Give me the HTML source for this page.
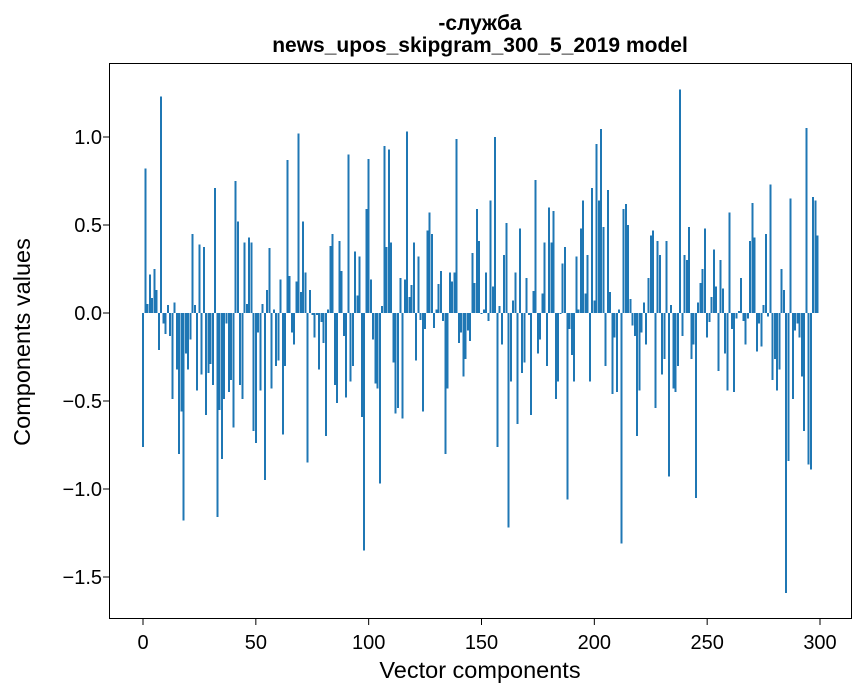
<!DOCTYPE html>
<html><head><meta charset="utf-8"><style>
body{margin:0;background:#fff;}
svg{display:block;font-family:"Liberation Sans","DejaVu Sans",sans-serif;}
</style></head><body>
<svg id="chart" width="867" height="696">
<text x="480" y="30" text-anchor="middle" font-size="21" font-weight="bold">-служба</text>
<text x="480" y="52" text-anchor="middle" font-size="21" font-weight="bold">news_upos_skipgram_300_5_2019 model</text>
<g id="bars"></g>
<g id="axes"></g>
<rect x="109.5" y="63.5" width="742" height="555" fill="none" stroke="#000" stroke-width="1"/>
<text x="480" y="678" text-anchor="middle" font-size="23.5">Vector components</text>
<text transform="translate(30,342) rotate(-90)" text-anchor="middle" font-size="23.5">Components values</text>
</svg>
<script>
const values = [
-0.76,0.82,0.05,0.22,0.085,0.25,0.13,-0.21,1.23,-0.06,
-0.12,0.045,-0.13,-0.49,0.06,-0.32,-0.80,-0.56,-1.18,-0.23,
-0.32,-0.15,0.45,0.045,-0.44,0.39,-0.35,0.375,-0.58,-0.34,
-0.29,-0.41,0.71,-1.16,-0.55,-0.83,-0.49,-0.06,-0.45,-0.38,
-0.65,0.75,0.52,-0.41,-0.49,0.40,0.05,0.43,0.40,-0.67,
-0.74,-0.11,-0.44,0.05,-0.95,0.13,0.37,-0.43,0.02,-0.30,
-0.27,0.19,-0.69,-0.30,0.87,0.21,-0.11,-0.18,0.18,1.02,
0.12,0.52,0.23,-0.85,0.13,-0.01,-0.14,-0.01,-0.32,-0.05,
-0.17,-0.70,0.02,0.38,0.45,-0.41,-0.51,0.41,0.24,-0.13,
-0.48,0.90,-0.39,-0.30,0.35,0.10,0.32,-0.59,-1.35,0.59,
0.875,0.19,-0.15,-0.40,-0.43,-0.97,0.04,0.95,0.375,0.93,
0.40,-0.28,-0.57,-0.54,0.20,-0.60,0.19,1.03,0.09,0.16,
0.40,-0.27,0.32,-0.04,-0.56,-0.09,0.47,0.57,0.45,-0.085,
0.02,0.165,0.24,-0.045,-0.80,-0.43,0.23,0.18,0.23,0.99,
-0.17,-0.11,-0.36,-0.26,-0.10,-0.16,0.34,0.17,0.59,0.41,
-0.005,0.02,0.23,-0.045,0.64,0.15,1.0,-0.76,0.04,-0.18,
0.33,0.51,-1.22,-0.39,0.07,0.23,-0.63,0.48,-0.34,-0.28,
0.20,-0.01,-0.58,0.125,0.755,-0.23,-0.15,0.11,0.40,-0.30,
0.60,0.40,0.58,-0.49,-0.39,-0.005,0.28,0.375,-1.06,-0.09,
-0.24,-0.39,0.32,0.02,0.48,0.64,0.11,0.33,-0.39,0.71,
0.07,0.96,0.64,1.045,0.49,-0.30,0.70,0.12,-0.46,-0.14,
-0.45,0.02,-1.31,0.59,0.62,0.50,0.08,-0.07,-0.13,-0.70,
-0.44,-0.11,0.06,-0.18,0.20,0.44,0.47,-0.54,0.41,0.33,
-0.35,-0.26,0.41,-0.93,0.045,-0.43,-0.45,-0.30,1.27,-0.13,
0.33,0.30,0.49,-0.26,-0.18,-1.05,0.06,0.17,0.25,0.48,
-0.14,-0.05,0.09,0.36,0.15,-0.33,0.30,0.14,-0.23,-0.44,
0.57,-0.09,-0.45,-0.03,0.01,0.20,-0.045,-0.18,-0.03,0.41,
0.625,0.43,-0.22,-0.06,-0.19,0.045,0.45,-0.02,0.73,-0.38,
-0.26,-0.44,-0.32,0.25,0.13,-1.59,-0.84,0.65,-0.49,-0.10,
-0.06,-0.14,-0.36,-0.67,1.05,-0.86,-0.89,0.66,0.64,0.44
];
const xTicks = [0,50,100,150,200,250,300];
const yTicks = [-1.5,-1.0,-0.5,0.0,0.5,1.0];
const yTickLabels = ["\u22121.5","\u22121.0","\u22120.5","0.0","0.5","1.0"];

const NS = "http://www.w3.org/2000/svg";
const xScale = v => 143 + v * (677/300);
const yScale = v => 313 - v * 176;
const barsG = document.getElementById('bars');
const axesG = document.getElementById('axes');
const bw = 2.0;
values.forEach((v, i) => {
  const r = document.createElementNS(NS, 'rect');
  const y0 = yScale(0), y1 = yScale(v);
  r.setAttribute('x', xScale(i) - bw/2);
  r.setAttribute('y', Math.min(y0, y1));
  r.setAttribute('width', bw);
  r.setAttribute('height', Math.abs(y1 - y0));
  r.setAttribute('fill', '#1f77b4');
  r.setAttribute('shape-rendering', 'crispEdges');
  
  
  barsG.appendChild(r);
});
xTicks.forEach(t => {
  const x = xScale(t);
  const l = document.createElementNS(NS, 'line');
  l.setAttribute('x1', x); l.setAttribute('x2', x);
  l.setAttribute('y1', 619); l.setAttribute('y2', 625);
  l.setAttribute('stroke', '#000');
  
  
  axesG.appendChild(l);
  const tx = document.createElementNS(NS, 'text');
  tx.setAttribute('x', x); tx.setAttribute('y', 649);
  tx.setAttribute('text-anchor', 'middle'); tx.setAttribute('font-size', '20');
  tx.textContent = String(t);
  
  
  axesG.appendChild(tx);
});
yTicks.forEach((t, i) => {
  const y = yScale(t);
  const l = document.createElementNS(NS, 'line');
  l.setAttribute('x1', 103); l.setAttribute('x2', 109);
  l.setAttribute('y1', y); l.setAttribute('y2', y);
  l.setAttribute('stroke', '#000');
  
  
  axesG.appendChild(l);
  const tx = document.createElementNS(NS, 'text');
  tx.setAttribute('x', 102); tx.setAttribute('y', y + 7);
  tx.setAttribute('text-anchor', 'end'); tx.setAttribute('font-size', '20');
  tx.textContent = yTickLabels[i];
  
  
  axesG.appendChild(tx);
});
</script>
</body></html>
